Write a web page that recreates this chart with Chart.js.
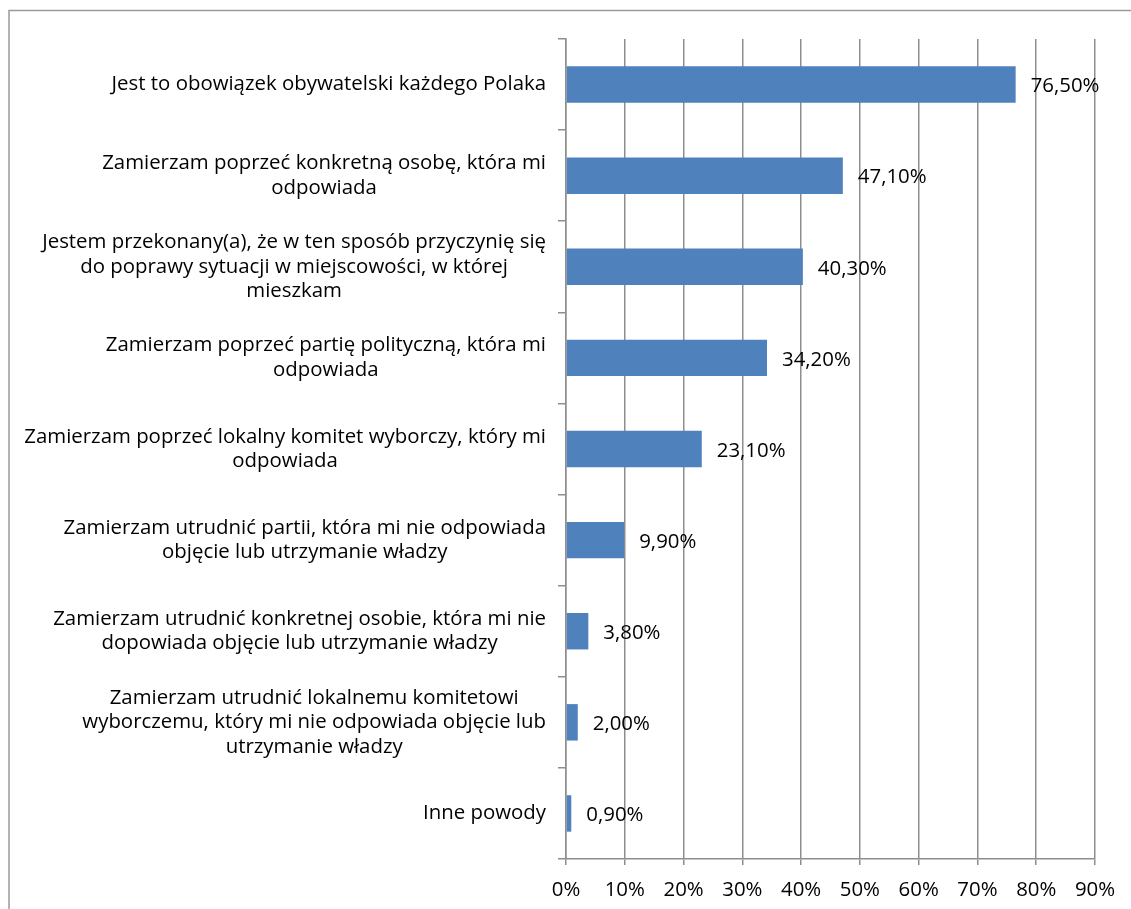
<!DOCTYPE html>
<html>
<head>
<meta charset="utf-8">
<script src="https://cdn.jsdelivr.net/npm/chart.js@4/dist/chart.umd.min.js"></script>
<style>
  html, body { margin: 0; padding: 0; background: #fff; }
  canvas { display: block; }
</style>
</head>
<body>
<canvas id="c" width="1131" height="909"></canvas>
<script>
// Reasons for voting (share of respondents, %)
const categories = [
  ["Jest to obowiązek obywatelski każdego Polaka"],
  ["Zamierzam poprzeć konkretną osobę, która mi", "odpowiada"],
  ["Jestem przekonany(a), że w ten sposób przyczynię się", "do poprawy sytuacji w miejscowości, w której", "mieszkam"],
  ["Zamierzam poprzeć partię polityczną, która mi", "odpowiada"],
  ["Zamierzam poprzeć lokalny komitet wyborczy, który mi", "odpowiada"],
  ["Zamierzam utrudnić partii, która mi nie odpowiada", "objęcie lub utrzymanie władzy"],
  ["Zamierzam utrudnić konkretnej osobie, która mi nie", "dopowiada objęcie lub utrzymanie władzy"],
  ["Zamierzam utrudnić lokalnemu komitetowi", "wyborczemu, który mi nie odpowiada objęcie lub", "utrzymanie władzy"],
  ["Inne powody"]
];
const values = [76.5, 47.1, 40.3, 34.2, 23.1, 9.9, 3.8, 2.0, 0.9];
const axisMin = 0;
const axisMax = 90;
const axisStep = 10;

const FONT_FAMILY = "'Open Sans', 'Noto Sans', sans-serif";
const FONT_SIZE = 20.4;
const GRID_COLOR = '#8e8e8e';
const BAR_COLOR = '#4f81bd';

const fmt = v => v.toFixed(2).replace('.', ',') + '%';

// Outer frame around the chart
const framePlugin = {
  id: 'frame',
  beforeDraw(chart) {
    const ctx = chart.ctx;
    ctx.save();
    ctx.fillStyle = '#fff';
    ctx.fillRect(0, 0, chart.width, chart.height);
    ctx.strokeStyle = '#9a9a9a';
    ctx.lineWidth = 1.5;
    ctx.strokeRect(9, 10.5, chart.width + 10, chart.height + 10);
    ctx.restore();
  }
};

// Category labels: block right-aligned to the axis, lines centred within the block
const categoryLabelPlugin = {
  id: 'categoryLabels',
  afterDraw(chart) {
    const ctx = chart.ctx;
    const yScale = chart.scales.y;
    const right = chart.chartArea.left - 20;
    const lineH = 24.5;
    ctx.save();
    ctx.font = FONT_SIZE + 'px ' + FONT_FAMILY;
    ctx.fillStyle = '#000';
    ctx.textAlign = 'center';
    ctx.textBaseline = 'middle';
    categories.forEach((lines, i) => {
      const cy = yScale.getPixelForTick(i);
      const w = Math.max(...lines.map(l => ctx.measureText(l).width));
      const cx = right - w / 2;
      const y0 = cy - (lines.length - 1) * lineH / 2;
      lines.forEach((l, k) => ctx.fillText(l, cx, y0 + k * lineH));
    });
    ctx.restore();
  }
};

// Value labels to the right of each bar
const valueLabelPlugin = {
  id: 'valueLabels',
  afterDatasetsDraw(chart) {
    const ctx = chart.ctx;
    const meta = chart.getDatasetMeta(0);
    ctx.save();
    ctx.font = FONT_SIZE + 'px ' + FONT_FAMILY;
    ctx.fillStyle = '#000';
    ctx.textAlign = 'left';
    ctx.textBaseline = 'middle';
    meta.data.forEach((bar, i) => {
      ctx.fillText(fmt(values[i]), bar.x + 15, bar.y + 2);
    });
    ctx.restore();
  }
};

new Chart(document.getElementById('c'), {
  type: 'bar',
  data: {
    labels: categories,
    datasets: [{
      data: values,
      backgroundColor: BAR_COLOR,
      borderWidth: 0,
      categoryPercentage: 1,
      barPercentage: 0.4
    }]
  },
  options: {
    indexAxis: 'y',
    responsive: false,
    animation: false,
    events: [],
    layout: { padding: { left: 0, top: 39, right: 36, bottom: 0 } },
    plugins: {
      legend: { display: false },
      tooltip: { enabled: false }
    },
    scales: {
      x: {
        min: axisMin,
        max: axisMax,
        ticks: {
          stepSize: axisStep,
          color: '#000',
          padding: 13,
          font: { family: FONT_FAMILY, size: FONT_SIZE },
          callback: v => v + '%'
        },
        grid: { color: GRID_COLOR, lineWidth: 1.5, tickLength: 6 },
        border: { color: GRID_COLOR, width: 1.5 },
        afterFit(s) { s.height = 50; }
      },
      y: {
        ticks: { display: false },
        grid: { color: GRID_COLOR, lineWidth: 1.5, tickLength: 8, drawOnChartArea: false, offset: true },
        border: { color: GRID_COLOR, width: 1.5 },
        afterFit(s) { s.width = 566; }
      }
    }
  },
  plugins: [framePlugin, categoryLabelPlugin, valueLabelPlugin]
});
</script>
</body>
</html>
